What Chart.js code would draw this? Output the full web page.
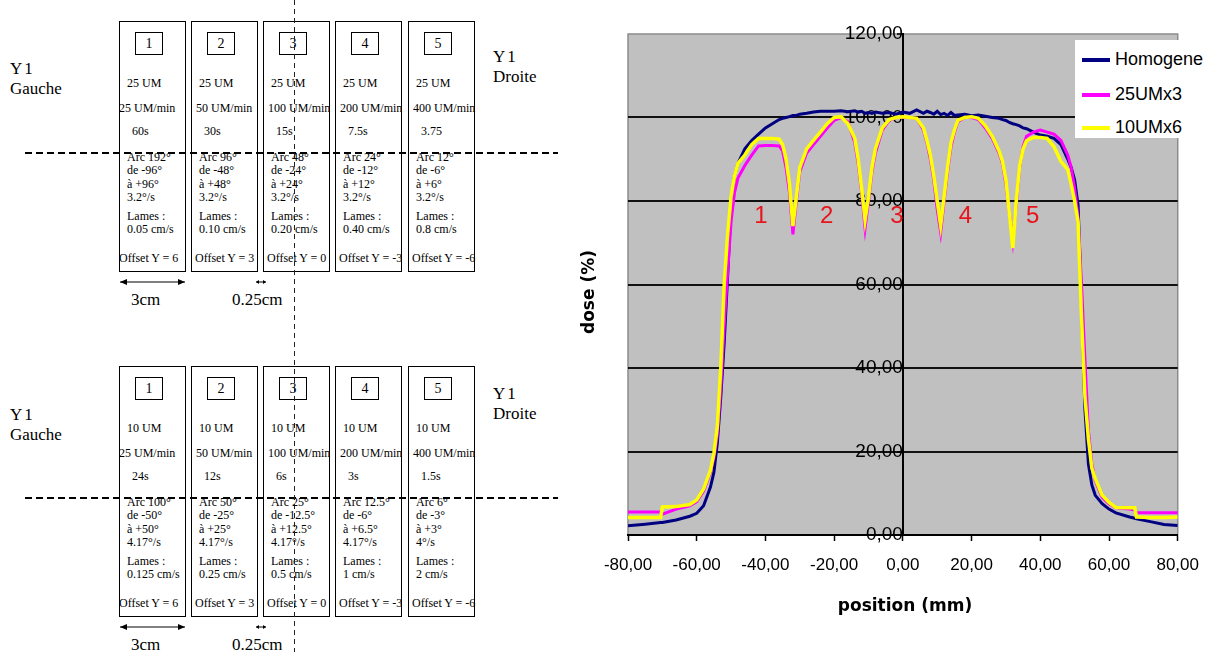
<!DOCTYPE html>
<html lang="fr">
<head>
<meta charset="UTF-8">
<title>Profils de dose</title>
<script src="https://cdn.jsdelivr.net/npm/chart.js"></script>
<style>
  body { margin: 0; width: 1213px; height: 652px; background: #fff; position: relative; overflow: hidden; font-family: "Liberation Serif", serif; color: #000; }
  .box { position: absolute; border: 1px solid #000; width: 65px; height: 249px; }
  .num { position: absolute; left: 15px; top: 10px; width: 26px; height: 21px; border: 1px solid #000; text-align: center; font-size: 14px; line-height: 21px; }
  .t { position: absolute; font-size: 12px; line-height: 13px; white-space: nowrap; }
  .side { position: absolute; font-size: 17px; line-height: 20px; white-space: nowrap; }
  .side .y1 { letter-spacing: 2px; }
  .hdash { position: absolute; height: 1.5px; background: repeating-linear-gradient(90deg, #000 0 7px, transparent 7px 11px); }
  .vdash { position: absolute; width: 1.2px; background: repeating-linear-gradient(180deg, #222 0 5px, transparent 5px 9px); }
  .cm { position: absolute; font-size: 17px; line-height: 19px; white-space: nowrap; }
  #wrap { position: absolute; left: 560px; top: 0; width: 653px; height: 652px; }
  .ytitle { position: absolute; left: 588px; top: 292px; transform: translate(-50%, -50%) rotate(-90deg); font: bold 17px "DejaVu Sans", sans-serif; white-space: nowrap; }
  .xtitle { position: absolute; left: 905px; top: 605px; transform: translate(-50%, -50%); font: bold 17px "DejaVu Sans", sans-serif; white-space: nowrap; }
  .legend { position: absolute; left: 1075px; top: 40px; width: 132px; height: 98px; background: #fff; font: 18px "Liberation Sans", Arial, sans-serif; }
  .legend div { position: absolute; left: 7px; height: 20px; line-height: 20px; white-space: nowrap; }
  .legend span { display: inline-block; width: 28px; height: 4px; vertical-align: middle; margin-right: 5px; }
</style>
</head>
<body>
<div id="diagram"></div>
<div id="wrap"><canvas id="doseChart"></canvas></div>
<div class="ytitle">dose (%)</div>
<div class="xtitle">position (mm)</div>
<div class="legend" id="legend"></div>

<script>
// profile positions (mm) and doses (%)
const positions = [
  -80, -75, -70.5, -70, -66, -62, -60, -58, -56, -55,
  -54, -53, -52, -51, -50, -49, -48, -46, -44, -42,
  -40, -38, -36, -35, -34, -33, -32, -31, -30, -28,
  -26, -24, -22, -20, -18, -16, -14, -13, -12, -11,
  -10, -9, -8, -6, -4, -2, 0, 2, 4, 6,
  7, 8, 9, 10, 11, 12, 13, 14, 15, 16,
  18, 20, 22, 24, 26, 28, 29, 30, 31, 32,
  33, 34, 35, 36, 38, 40, 42, 44, 46, 48,
  49, 50, 51, 52, 53, 54, 55, 56, 58, 60,
  62, 66, 67.5, 68, 72, 76, 80
];
const homogene = [
  2.2, 2.6, 3.0, 3.0, 3.6, 4.5, 5.2, 7.0, 11.5, 15.0,
  22.0, 33.0, 46.0, 62.0, 79.0, 86.0, 89.0, 92.5, 94.5, 96.0,
  97.5, 98.5, 99.5, 99.8, 100.0, 100.2, 100.5, 100.5, 100.8, 101.0,
  101.3, 101.5, 101.5, 101.5, 101.6, 101.4, 101.6, 101.3, 101.5, 101.0,
  101.2, 101.0, 101.3, 101.0, 101.2, 100.8, 101.3, 101.0, 101.8, 101.0,
  101.5, 101.2, 100.8, 101.5, 100.7, 101.0, 100.5, 101.2, 100.5, 100.6,
  100.8, 100.4, 100.6, 100.3, 100.0, 99.8, 99.5, 99.3, 98.8, 98.5,
  98.3, 98.0, 97.5, 97.3, 96.5, 95.8, 95.5, 95.0, 93.5, 90.0,
  88.0, 85.0, 79.0, 55.0, 30.0, 17.0, 12.0, 9.5, 7.5, 6.2,
  5.3, 4.3, 4.0, 3.9, 3.2, 2.5, 2.3
];
const um25x3 = [
  5.5, 5.5, 5.5, 5.0, 6.2, 7.0, 8.0, 10.5, 15.0, 18.5,
  24.0, 35.0, 50.0, 63.0, 75.0, 82.0, 85.5, 88.5, 91.0, 93.2,
  93.3, 93.3, 93.2, 92.0, 88.0, 82.0, 72.0, 80.0, 87.0, 91.5,
  93.5, 95.5, 97.5, 99.3, 100.0, 99.0, 94.0, 89.0, 82.0, 73.5,
  80.0, 87.0, 91.5, 97.0, 99.3, 100.0, 100.0, 100.0, 99.8, 97.0,
  94.0, 90.0, 85.0, 78.0, 72.5, 80.0, 87.0, 93.0, 96.5, 99.0,
  100.0, 100.0, 99.5, 97.5, 95.0, 91.5, 89.0, 84.0, 77.0, 70.5,
  79.0, 88.0, 93.0, 95.5, 96.5, 97.0, 96.5, 96.0, 94.5, 91.0,
  88.0, 83.0, 76.0, 60.0, 42.0, 25.0, 17.0, 13.0, 9.0, 7.5,
  6.5, 6.2, 6.0, 5.3, 5.3, 5.3, 5.3
];
const um10x6 = [
  4.2, 4.2, 4.2, 6.7, 6.8, 7.3, 8.4, 11.0, 15.5, 19.5,
  26.0, 40.0, 60.0, 72.0, 81.0, 86.0, 89.0, 91.0, 93.5, 95.0,
  95.0, 95.0, 94.8, 93.5, 90.0, 84.0, 74.0, 81.0, 88.0, 92.5,
  94.5, 96.5, 98.5, 100.0, 100.2, 98.5, 95.0, 90.0, 83.0, 75.5,
  81.0, 88.0, 92.5, 97.5, 99.5, 100.0, 100.2, 100.0, 99.8, 97.5,
  94.5, 91.0, 86.0, 80.0, 74.2, 81.0, 88.0, 94.0, 97.0, 99.3,
  100.0, 100.2, 99.8, 98.0, 95.5, 92.0, 89.5, 85.0, 77.0, 68.7,
  80.0, 88.5, 92.5, 94.5, 95.2, 95.2, 95.0, 93.0, 89.5, 87.5,
  84.0, 80.0, 75.0, 52.0, 33.0, 23.0, 16.0, 13.5, 9.5, 7.8,
  6.6, 6.5, 6.5, 4.3, 4.2, 4.2, 4.3
];
const seriesNames = ['Homogene', '25UMx3', '10UMx6'];
const seriesColors = ['#000080', '#ff00ff', '#ffff00'];

// red dip numbers (data coords)
const dipLabels = ['1', '2', '3', '4', '5'];
const dipLabelX = [-41.3, -22.2, -1.7, 18.2, 37.8];
const dipLabelY = 76.2;

// left diagram texts
const boxNumbers = ['1', '2', '3', '4', '5'];
const offsetText = ['Offset Y = 6', 'Offset Y = 3', 'Offset Y = 0', 'Offset Y = -3', 'Offset Y = -6'];
const rateText = ['25 UM/min', '50 UM/min', '100 UM/min', '200 UM/min', '400 UM/min'];
const topDose = '25 UM';
const topTime = ['60s', '30s', '15s', '7.5s', '3.75'];
const topArc = [
  ['Arc 192°', 'de -96°', 'à +96°', '3.2°/s'],
  ['Arc 96°', 'de -48°', 'à +48°', '3.2°/s'],
  ['Arc 48°', 'de -24°', 'à +24°', '3.2°/s'],
  ['Arc 24°', 'de -12°', 'à +12°', '3.2°/s'],
  ['Arc 12°', 'de -6°', 'à +6°', '3.2°/s']
];
const topLames = ['0.05 cm/s', '0.10 cm/s', '0.20 cm/s', '0.40 cm/s', '0.8 cm/s'];
const botDose = '10 UM';
const botTime = ['24s', '12s', '6s', '3s', '1.5s'];
const botArc = [
  ['Arc 100°', 'de -50°', 'à +50°', '4.17°/s'],
  ['Arc 50°', 'de -25°', 'à +25°', '4.17°/s'],
  ['Arc 25°', 'de -12.5°', 'à +12.5°', '4.17°/s'],
  ['Arc 12.5°', 'de -6°', 'à +6.5°', '4.17°/s'],
  ['Arc 6°', 'de -3°', 'à +3°', '4°/s']
];
const botLames = ['0.125 cm/s', '0.25 cm/s', '0.5 cm/s', '1 cm/s', '2 cm/s'];

// ---- diagram ----
const diagram = document.getElementById('diagram');
function add(cls, left, top, html, parent) {
  const d = document.createElement('div');
  d.className = cls;
  d.style.left = left + 'px';
  d.style.top = top + 'px';
  if (html !== undefined) d.innerHTML = html;
  (parent || diagram).appendChild(d);
  return d;
}
const boxLefts = [119, 191, 263, 335, 408];

function drawRow(top, dose, times, arcs, lames, arrowY, labelY, gaucheTop, droiteTop) {
  boxLefts.forEach((bx, i) => {
    const b = add('box', bx, top);
    add('num', 15, 10, boxNumbers[i], b);
    add('t', 7, 62 - 7, dose, b);
    add('t', i === 0 ? -1 : 4, 87 - 7, rateText[i], b);
    add('t', 12, 110 - 7, times[i], b);
    arcs[i].forEach((s, k) => add('t', 7, 136 - 7 + k * 13.3, s, b));
    add('t', 7, 195 - 7, 'Lames :', b);
    add('t', 7, 208 - 7, lames[i], b);
    add('t', i === 0 ? -1 : 3, 237 - 7, offsetText[i], b);
  });
  add('side', 10, gaucheTop, '<span class="y1">Y1</span><br>Gauche');
  add('side', 493, droiteTop, '<span class="y1">Y1</span><br>Droite');
  const hd = add('hdash', 25, top + 131);
  hd.style.width = '533px';
  // arrows
  const svgNS = 'http://www.w3.org/2000/svg';
  const svg = document.createElementNS(svgNS, 'svg');
  svg.setAttribute('width', '200');
  svg.setAttribute('height', '12');
  svg.style.position = 'absolute';
  svg.style.left = '110px';
  svg.style.top = (arrowY - 6) + 'px';
  svg.innerHTML =
    '<line x1="10" y1="6" x2="75" y2="6" stroke="#000" stroke-width="1"/>' +
    '<path d="M10 6 L17 3 L17 9 Z M75 6 L68 3 L68 9 Z" fill="#000"/>' +
    '<line x1="146" y1="6" x2="156" y2="6" stroke="#000" stroke-width="1"/>' +
    '<path d="M146 6 L149 4 L149 8 Z M156 6 L153 4 L153 8 Z" fill="#000"/>';
  diagram.appendChild(svg);
  add('cm', 131, labelY - 10, '3cm');
  add('cm', 232, labelY - 10, '0.25cm');
}
drawRow(21, topDose, topTime, topArc, topLames, 282, 300, 59, 47);
drawRow(366, botDose, botTime, botArc, botLames, 627, 645, 405, 384);
const vd = add('vdash', 294, 0);
vd.style.height = '652px';

// ---- legend ----
const legend = document.getElementById('legend');
const legendTops = [9, 44, 77];
seriesNames.forEach((n, i) => {
  const row = document.createElement('div');
  row.style.top = legendTops[i] + 'px';
  row.innerHTML = '<span style="background:' + seriesColors[i] + '"></span>' + n;
  legend.appendChild(row);
});

// ---- chart ----
const fmt = v => v.toFixed(2).replace('.', ',');

const plotBg = {
  id: 'plotBg',
  beforeDraw(chart) {
    const { ctx, chartArea: a } = chart;
    ctx.save();
    ctx.fillStyle = '#c0c0c0';
    ctx.fillRect(a.left, a.top, a.width, a.height);
    ctx.strokeStyle = '#8c8c8c';
    ctx.lineWidth = 1.5;
    ctx.strokeRect(a.left, a.top, a.width, a.height);
    ctx.restore();
  }
};

const dipText = {
  id: 'dipText',
  afterDatasetsDraw(chart) {
    const { ctx, scales } = chart;
    ctx.save();
    ctx.fillStyle = '#e8141b';
    ctx.font = '24px "Liberation Sans", Arial, sans-serif';
    ctx.textAlign = 'center';
    ctx.textBaseline = 'middle';
    dipLabels.forEach((t, i) => {
      ctx.fillText(t, scales.x.getPixelForValue(dipLabelX[i]), scales.y.getPixelForValue(dipLabelY));
    });
    ctx.restore();
  }
};

const allValues = [homogene, um25x3, um10x6];
const widths = [3, 3, 3.5];
const orders = [3, 2, 1];

new Chart(document.getElementById('doseChart'), {
  type: 'line',
  data: {
    datasets: seriesNames.map((name, s) => ({
      label: name,
      data: positions.map((x, i) => ({ x: x, y: allValues[s][i] })),
      borderColor: seriesColors[s],
      backgroundColor: seriesColors[s],
      borderWidth: widths[s],
      order: orders[s]
    }))
  },
  options: {
    responsive: true,
    maintainAspectRatio: false,
    animation: false,
    layout: { padding: { left: 68, right: 31, top: 34, bottom: 0 } },
    elements: { point: { radius: 0 }, line: { tension: 0 } },
    plugins: { legend: { display: false }, tooltip: { enabled: false } },
    scales: {
      x: {
        type: 'linear',
        min: -80,
        max: 80,
        ticks: {
          stepSize: 20,
          callback: fmt,
          color: '#000',
          padding: 14,
          maxRotation: 0,
          font: { family: '"Liberation Sans", Arial, sans-serif', size: 17 }
        },
        grid: { drawOnChartArea: false, color: '#000', tickLength: 6, tickWidth: 1.5 },
        border: { color: '#000', width: 2 },
        afterFit(scale) { scale.height = 117; }
      },
      y: {
        type: 'linear',
        position: { x: 0 },
        min: 0,
        max: 120,
        ticks: {
          stepSize: 20,
          callback: fmt,
          color: '#000',
          padding: 7,
          font: { family: '"Liberation Sans", Arial, sans-serif', size: 19 }
        },
        grid: {
          color: c => (c.tick && c.tick.value === 120) ? 'rgba(0,0,0,0)' : '#111',
          lineWidth: 2,
          tickColor: '#000',
          tickLength: 5,
          tickWidth: 1.5
        },
        border: { color: '#000', width: 2 }
      }
    }
  },
  plugins: [plotBg, dipText]
});
</script>
</body>
</html>
